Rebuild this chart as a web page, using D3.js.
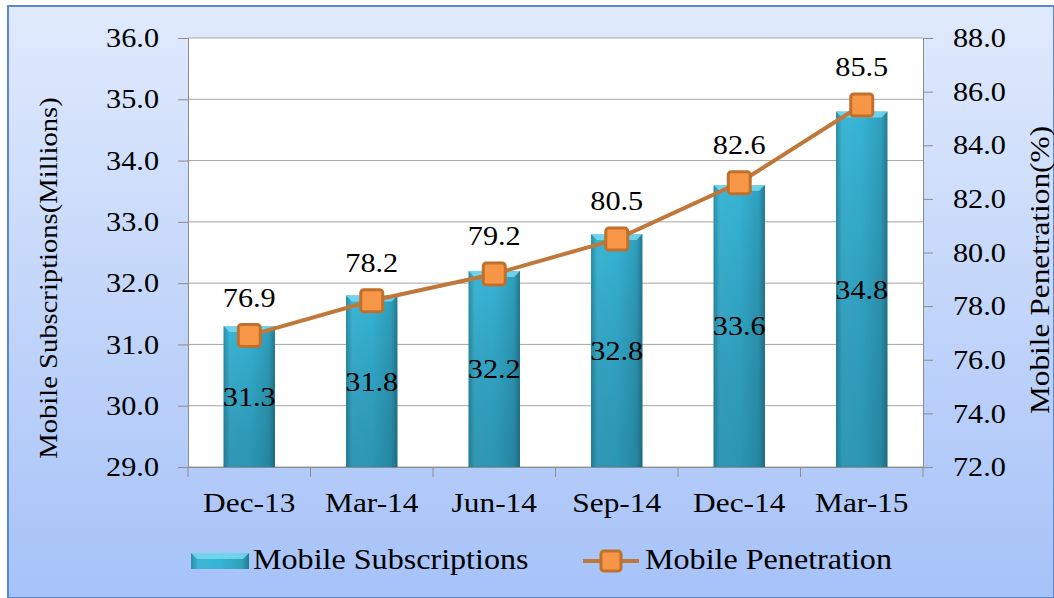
<!DOCTYPE html>
<html><head><meta charset="utf-8">
<script src="https://cdn.jsdelivr.net/npm/d3@7"></script>
<style>body{margin:0;background:#fff}svg{display:block}</style>
</head><body><svg id="c" width="1054" height="598"></svg>
<script>
const categories = ["Dec-13","Mar-14","Jun-14","Sep-14","Dec-14","Mar-15"];
const subscriptions = [31.3,31.8,32.2,32.8,33.6,34.8];
const penetration = [76.9,78.2,79.2,80.5,82.6,85.5];
const leftTicks = [29,30,31,32,33,34,35,36];
const rightTicks = [72,74,76,78,80,82,84,86,88];

const svg = d3.select("#c");
const W = 1054, H = 598;
const m = {l:188, r:923, t:38, b:467};
const font = "'Liberation Serif','Times New Roman',serif";

function stretch(sel, f){
  sel.each(function(){
    const w = this.getComputedTextLength();
    d3.select(this).attr("textLength", w*f).attr("lengthAdjust","spacingAndGlyphs");
  });
}

const defs = svg.append("defs");
const bg = defs.append("linearGradient").attr("id","bg").attr("x1",0).attr("y1",0).attr("x2",0).attr("y2",1);
bg.append("stop").attr("offset","0%").attr("stop-color","#e0eafc");
bg.append("stop").attr("offset","100%").attr("stop-color","#a6c2f8");
const bh = defs.append("linearGradient").attr("id","barH").attr("x1",0).attr("y1",0).attr("x2",1).attr("y2",0);
[["0%","#2a8ea6"],["12%","#3cb6d6"],["50%","#36b4d6"],["88%","#2f9fbd"],["100%","#237a90"]].forEach(s=>bh.append("stop").attr("offset",s[0]).attr("stop-color",s[1]));
const bv = defs.append("linearGradient").attr("id","barV").attr("x1",0).attr("y1",0).attr("x2",0).attr("y2",1);
bv.append("stop").attr("offset","0%").attr("stop-color","#000").attr("stop-opacity",0);
bv.append("stop").attr("offset","100%").attr("stop-color","#0a3a50").attr("stop-opacity",0.25);

svg.append("rect").attr("x",8).attr("y",6).attr("width",W-8).attr("height",H-6)
  .attr("fill","url(#bg)").attr("stroke","#5a88cc").attr("stroke-width",2);
svg.append("rect").attr("x",m.l).attr("y",m.t).attr("width",m.r-m.l).attr("height",m.b-m.t).attr("fill","#fff");

const x = d3.scaleBand().domain(categories).range([m.l,m.r]).paddingInner(0.58).paddingOuter(0.29);
const xb = d3.scaleBand().domain(categories).range([m.l,m.r]);
const yL = d3.scaleLinear().domain([29,36]).range([m.b,m.t]);
const yR = d3.scaleLinear().domain([72,88]).range([m.b,m.t]);

// grid
svg.append("g").selectAll("line").data(leftTicks).join("line")
  .attr("x1",m.l).attr("x2",m.r).attr("y1",d=>yL(d)).attr("y2",d=>yL(d))
  .attr("stroke","#a6a6a6").attr("stroke-width",1);

// axes
const axL = svg.append("g").attr("transform",`translate(${m.l},0)`)
  .call(d3.axisLeft(yL).tickValues(leftTicks).tickFormat(d3.format(".1f")).tickSize(10).tickPadding(19));
const axR = svg.append("g").attr("transform",`translate(${m.r},0)`)
  .call(d3.axisRight(yR).tickValues(rightTicks).tickFormat(d3.format(".1f")).tickSize(10).tickPadding(20));
const axB = svg.append("g").attr("transform",`translate(0,${m.b})`)
  .call(d3.axisBottom(xb).tickSize(0).tickPadding(25));
[axL,axR,axB].forEach(a=>{
  a.selectAll("path").attr("stroke","#8c8c8c");
  a.selectAll("line").attr("stroke","#8c8c8c");
  a.selectAll("text").attr("font-family",font).attr("font-size",27).attr("fill","#000");
});
axB.selectAll("text").attr("font-size",28);
[axL,axR,axB].forEach(a=>stretch(a.selectAll("text"),1.12));
// category separator ticks
svg.append("g").selectAll("line").data(categories.concat(["_end"])).join("line")
  .attr("x1",(d,i)=>m.l+i*xb.step()).attr("x2",(d,i)=>m.l+i*xb.step())
  .attr("y1",m.b).attr("y2",m.b+10).attr("stroke","#8c8c8c");

// bars
const bars = svg.append("g");
bars.selectAll("rect.b").data(categories).join("rect").attr("class","b")
  .attr("x",d=>x(d)).attr("width",x.bandwidth())
  .attr("y",(d,i)=>yL(subscriptions[i])).attr("height",(d,i)=>m.b-yL(subscriptions[i]))
  .attr("fill","url(#barH)");
bars.selectAll("rect.v").data(categories).join("rect").attr("class","v")
  .attr("x",d=>x(d)).attr("width",x.bandwidth())
  .attr("y",(d,i)=>yL(subscriptions[i])).attr("height",(d,i)=>m.b-yL(subscriptions[i]))
  .attr("fill","url(#barV)");
bars.selectAll("path.top").data(categories).join("path").attr("class","top")
  .attr("d",(d,i)=>{const x0=x(d),x1=x0+x.bandwidth(),y0=yL(subscriptions[i]);
    return `M${x0},${y0}L${x1},${y0}L${x1-6},${y0+6}L${x0+6},${y0+6}Z`;})
  .attr("fill","#7fdcf2").attr("opacity",0.8);
const bl = bars.selectAll("text").data(categories).join("text")
  .attr("x",d=>x(d)+x.bandwidth()/2)
  .attr("y",(d,i)=>(yL(subscriptions[i])+m.b)/2)
  .attr("dy","0.35em").attr("text-anchor","middle")
  .attr("font-family",font).attr("font-size",27).attr("fill","#000")
  .text((d,i)=>subscriptions[i].toFixed(1));
stretch(bl,1.12);

// line
const cx = d=>xb(d)+xb.bandwidth()/2;
svg.append("path").datum(categories)
  .attr("d",d3.line().x(cx).y((d,i)=>yR(penetration[i])))
  .attr("fill","none").attr("stroke","#c0783a").attr("stroke-width",4);
svg.append("g").selectAll("rect").data(categories).join("rect")
  .attr("x",d=>cx(d)-11).attr("y",(d,i)=>yR(penetration[i])-11)
  .attr("width",22).attr("height",22).attr("rx",3)
  .attr("fill","#f79646").attr("stroke","#c0702c").attr("stroke-width",3);
const pl = svg.append("g").selectAll("text").data(categories).join("text")
  .attr("x",cx).attr("y",(d,i)=>yR(penetration[i])-29)
  .attr("text-anchor","middle").attr("font-family",font).attr("font-size",27).attr("fill","#000")
  .text((d,i)=>penetration[i].toFixed(1));
stretch(pl,1.12);

// axis titles
const t1 = svg.append("text").attr("transform",`translate(57,278) rotate(-90)`)
  .attr("text-anchor","middle").attr("font-family",font).attr("font-size",26)
  .text("Mobile Subscriptions(Millions)");
const t2 = svg.append("text").attr("transform",`translate(1049,270) rotate(-90)`)
  .attr("text-anchor","middle").attr("font-family",font).attr("font-size",28)
  .text("Mobile Penetration(%)");
stretch(t1,1.1); stretch(t2,1.12);

// legend
const lg = svg.append("g");
lg.append("rect").attr("x",191).attr("y",553).attr("width",58).attr("height",16).attr("fill","url(#barH)");
lg.append("path").attr("d","M191,553L249,553L243,559L197,559Z").attr("fill","#7fdcf2").attr("opacity",0.8);
const lt1 = lg.append("text").attr("x",253).attr("y",569).attr("font-family",font).attr("font-size",30).text("Mobile Subscriptions");
lg.append("line").attr("x1",583).attr("x2",639).attr("y1",561).attr("y2",561).attr("stroke","#c0783a").attr("stroke-width",4);
lg.append("rect").attr("x",601).attr("y",551).attr("width",20).attr("height",20).attr("rx",3)
  .attr("fill","#f79646").attr("stroke","#c0702c").attr("stroke-width",3);
const lt2 = lg.append("text").attr("x",645).attr("y",569).attr("font-family",font).attr("font-size",30).text("Mobile Penetration");
stretch(lt1,1.07); stretch(lt2,1.07);
</script></body></html>
